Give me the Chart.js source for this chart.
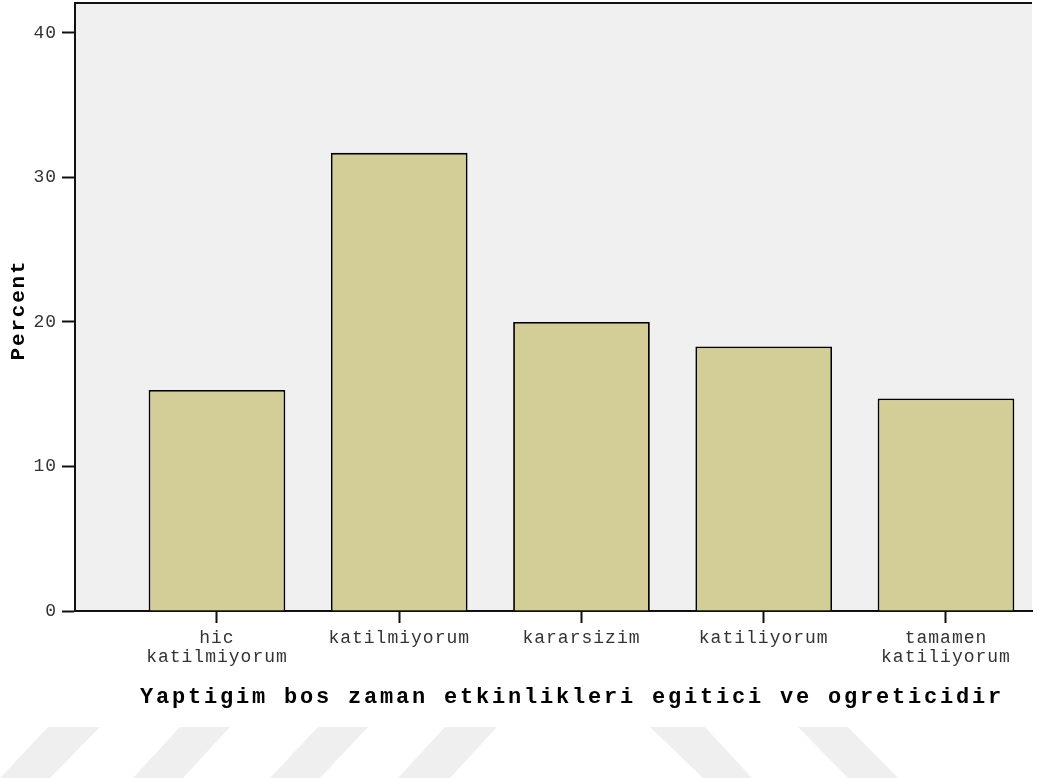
<!DOCTYPE html>
<html>
<head>
<meta charset="utf-8">
<script src="https://cdn.jsdelivr.net/npm/chart.js@4.4.1/dist/chart.umd.min.js"></script>
<style>
  html, body { margin: 0; padding: 0; background: #fff; }
  #wrap { position: relative; width: 1037px; height: 778px; overflow: hidden; }
  #chart { position: absolute; left: 0; top: 0; }
  .wm { position: absolute; top: 727px; height: 51px; background: #efefef; }
</style>
</head>
<body>
<div id="wrap">
  <div class="wm" style="left:0px;width:100px;clip-path:polygon(48px 0,100px 0,50px 100%,0 100%)"></div>
  <div class="wm" style="left:133px;width:97px;clip-path:polygon(47px 0,97px 0,50px 100%,0 100%)"></div>
  <div class="wm" style="left:270px;width:98px;clip-path:polygon(48px 0,98px 0,50px 100%,0 100%)"></div>
  <div class="wm" style="left:398px;width:99px;clip-path:polygon(47px 0,99px 0,52px 100%,0 100%)"></div>
  <div class="wm" style="left:650px;width:102px;clip-path:polygon(0 0,55px 0,102px 100%,53px 100%)"></div>
  <div class="wm" style="left:798px;width:100px;clip-path:polygon(0 0,50px 0,100px 100%,50px 100%)"></div>
  <canvas id="chart" width="1037" height="778"></canvas>
</div>
<script>
  "use strict";

  var categories = [["hic", "katilmiyorum"], "katilmiyorum", "kararsizim", "katiliyorum", ["tamamen", "katiliyorum"]];
  var percents = [15.3, 31.7, 20.0, 18.3, 14.7];
  var yTicks = [0, 10, 20, 30, 40];
  var xTitle = "Yaptigim bos zaman etkinlikleri egitici ve ogreticidir";
  var yTitle = "Percent";

  var monoFont = "'Liberation Mono', 'Courier New', monospace";

  // plot background, top border and axis titles
  var frame = {
    id: 'frame',
    beforeDraw: function (chart) {
      var a = chart.chartArea, ctx = chart.ctx;
      ctx.letterSpacing = '1px';
      ctx.save();
      ctx.fillStyle = '#f0f0f0';
      ctx.fillRect(a.left, a.top, a.right - a.left, a.bottom - a.top);
      ctx.restore();
    },
    afterDraw: function (chart) {
      var a = chart.chartArea, ctx = chart.ctx;
      ctx.save();
      ctx.strokeStyle = '#111';
      ctx.lineWidth = 2;
      ctx.beginPath();
      ctx.moveTo(a.left - 1, a.top);
      ctx.lineTo(a.right, a.top);
      ctx.stroke();

      ctx.fillStyle = '#000';
      ctx.textAlign = 'center';
      ctx.textBaseline = 'middle';
      ctx.font = "bold 22px " + monoFont;
      ctx.letterSpacing = '2.8px';
      ctx.fillText(xTitle, 572, 697);

      ctx.translate(19, 310);
      ctx.rotate(-Math.PI / 2);
      ctx.font = "bold 21px " + monoFont;
      ctx.letterSpacing = '1.8px';
      ctx.fillText(yTitle, 0, 0);
      ctx.restore();
    }
  };

  var ctx = document.getElementById("chart").getContext('2d');

  var myChart = new Chart(ctx, {
    type: 'bar',
    data: {
      datasets: [{
        data: percents.map(function (v, i) { return { x: i, y: v }; }),
        backgroundColor: '#d3ce98',
        borderColor: '#000',
        borderWidth: 1.8,
        barPercentage: 0.75,
        categoryPercentage: 1.0
      }]
    },
    plugins: [frame],
    options: {
      responsive: false,
      animation: false,
      layout: { padding: { top: 3, right: 5, left: 0, bottom: 0 } },
      plugins: {
        legend: { display: false },
        tooltip: { enabled: false }
      },
      scales: {
        x: {
          type: 'linear',
          offset: false,
          min: -0.779,
          max: 4.472,
          afterBuildTicks: function (scale) {
            scale.ticks = categories.map(function (c, i) { return { value: i }; });
          },
          afterFit: function (scale) {
            scale.height = 167;
            scale.paddingLeft = 0;
            scale.paddingRight = 0;
          },
          ticks: {
            autoSkip: false,
            maxRotation: 0,
            padding: 6,
            color: '#333',
            font: { family: monoFont, size: 18, lineHeight: 1.05 },
            callback: function (value) { return categories[value]; }
          },
          grid: {
            offset: false,
            drawOnChartArea: false,
            tickLength: 12,
            tickWidth: 2,
            tickColor: '#111'
          },
          border: { color: '#111', width: 2 }
        },
        y: {
          min: 0,
          max: 42.07,
          afterBuildTicks: function (scale) {
            scale.ticks = yTicks.map(function (v) { return { value: v }; });
          },
          afterFit: function (scale) {
            scale.width = 75;
            scale.paddingTop = 0;
            scale.paddingBottom = 0;
          },
          ticks: {
            padding: 5,
            color: '#333',
            font: { family: monoFont, size: 18 }
          },
          grid: {
            drawOnChartArea: false,
            tickLength: 13,
            tickWidth: 2,
            tickColor: '#111'
          },
          border: { color: '#111', width: 2 }
        }
      }
    }
  });
</script>
</body>
</html>
